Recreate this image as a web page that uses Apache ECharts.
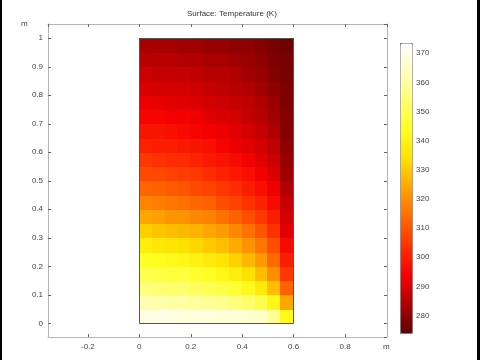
<!DOCTYPE html>
<html>
<head>
<meta charset="utf-8">
<script src="https://cdn.jsdelivr.net/npm/echarts@6/dist/echarts.min.js"></script>
<style>
html,body{margin:0;padding:0;background:#fff;}
#c{position:absolute;left:0;top:0;width:480px;height:360px;}
.bar{position:absolute;top:0;height:360px;background:#000;}
</style>
</head>
<body>
<div id="c"></div>
<div class="bar" style="left:0;width:2px"></div>
<div class="bar" style="left:477px;width:3px"></div>
<script>
// Cell centres (m)
const xCenters = [0.025,0.075,0.125,0.175,0.225,0.275,0.325,0.375,0.425,0.475,0.525,0.575];
const yCenters = [0.025,0.075,0.125,0.175,0.225,0.275,0.325,0.375,0.425,0.475,0.525,0.575,0.625,0.675,0.725,0.775,0.825,0.875,0.925,0.975];
// Temperature (K), one row per y centre (bottom -> top), one value per x centre (left -> right)
const tempRows = [
 [369,369,369,368,368,368,367,367,366,364,358,342],
 [362,361,360,360,359,358,357,355,353,349,341,324],
 [355,354,353,353,351,350,348,346,342,337,328,312],
 [349,348,347,347,345,344,341,338,334,328,320,305],
 [344,343,342,341,339,337,335,331,327,322,314,300],
 [338,336,335,334,332,330,328,325,321,316,309,296],
 [331,329,328,327,326,324,322,319,315,310,304,291],
 [324,323,321,321,319,318,315,312,309,305,300,289],
 [318,317,316,315,313,312,309,307,304,301,296,287],
 [313,312,311,310,308,307,305,303,300,297,293,284],
 [308,308,307,306,305,303,301,299,297,294,290,282],
 [305,304,303,303,301,299,298,296,294,291,288,281],
 [301,300,300,299,298,297,295,293,291,289,286,280],
 [298,298,297,296,295,294,293,291,289,287,284,279],
 [295,295,294,294,293,291,290,289,287,285,282,279],
 [293,292,291,291,290,289,288,287,286,284,281,278],
 [290,289,289,289,288,287,286,285,284,282,280,278],
 [288,287,287,287,286,285,285,284,282,281,279,277],
 [285,285,285,284,284,283,283,282,281,280,278,277],
 [283,283,283,282,282,281,281,280,280,279,277,276]
];
const tempMin = 274.0, tempMax = 373.5;
const titleText = 'Surface: Temperature (K)';
const unitText = 'm';

const dx = xCenters[1] - xCenters[0];
const dy = yCenters[1] - yCenters[0];
const cells = [];
tempRows.forEach((row, j) => row.forEach((t, i) => cells.push([xCenters[i], yCenters[j], t])));
const domain = [[xCenters[0]-dx/2, yCenters[0]-dy/2, xCenters[xCenters.length-1]+dx/2, yCenters[yCenters.length-1]+dy/2]];

const FONT = 'Liberation Sans';
const lab = {fontFamily: FONT, fontSize: 8, color: '#444'};
const frameLine = {show: true, onZero: false, lineStyle: {color: '#b4b4b4', width: 1}};
const tick = {show: true, inside: true, length: 3, lineStyle: {color: '#666'}};

const chart = echarts.init(document.getElementById('c'), null, {renderer: 'canvas'});
chart.setOption({
  animation: false,
  backgroundColor: '#fff',
  title: {text: titleText, left: 187, top: 10, padding: 0,
          textStyle: {fontFamily: FONT, fontSize: 8, fontWeight: 'normal', color: '#333'}},
  grid: [
    {left: 48, top: 24, width: 339, height: 313, containLabel: false},
    {left: 400, top: 43, width: 12, height: 290, containLabel: false}
  ],
  xAxis: [
    {gridIndex: 0, type: 'value', min: -0.355, max: 0.963, splitNumber: 6, minInterval: 0.2, maxInterval: 0.2,
     axisLine: frameLine, axisTick: tick, splitLine: {show: false},
     axisLabel: Object.assign({margin: 6, showMinLabel: false, showMaxLabel: false}, lab)},
    {gridIndex: 0, type: 'value', position: 'top', min: -0.355, max: 0.963, splitNumber: 6, minInterval: 0.2, maxInterval: 0.2,
     axisLine: frameLine, axisTick: tick, splitLine: {show: false}, axisLabel: {show: false}},
    {gridIndex: 1, type: 'value', show: false, min: 0, max: 1}
  ],
  yAxis: [
    {gridIndex: 0, type: 'value', min: -0.048, max: 1.05, splitNumber: 11, minInterval: 0.1, maxInterval: 0.1,
     axisLine: frameLine, axisTick: tick, splitLine: {show: false},
     axisLabel: Object.assign({margin: 5, showMinLabel: false, showMaxLabel: false}, lab)},
    {gridIndex: 0, type: 'value', position: 'right', min: -0.048, max: 1.05, splitNumber: 11, minInterval: 0.1, maxInterval: 0.1,
     axisLine: frameLine, axisTick: tick, splitLine: {show: false}, axisLabel: {show: false}},
    {gridIndex: 1, type: 'value', position: 'right', min: tempMin, max: tempMax, splitNumber: 10, minInterval: 10, maxInterval: 10,
     axisLine: {show: false}, axisTick: {show: false}, splitLine: {show: false},
     axisLabel: Object.assign({margin: 4, showMinLabel: false, showMaxLabel: false}, lab)},
    {gridIndex: 1, type: 'value', position: 'left', min: tempMin, max: tempMax, splitNumber: 10, minInterval: 10, maxInterval: 10,
     axisLine: {show: false}, splitLine: {show: false}, axisLabel: {show: false},
     axisTick: {show: true, inside: true, length: 2, lineStyle: {color: '#333'}}}
  ],
  visualMap: {
    type: 'continuous', min: tempMin, max: tempMax, dimension: 2, seriesIndex: 0,
    left: 400, top: 43, itemWidth: 12, itemHeight: 290, padding: 0,
    calculable: false, hoverLink: false, text: null, showLabel: false,
    borderColor: '#888', borderWidth: 1,
    inRange: {color: ['#5e0000','#b00000','#f50000','#ff3000','#ff6a00','#ffa400','#ffe000','#ffff20','#ffff70','#ffffc0','#ffffff']}
  },
  graphic: [
    {type: 'text', left: 21, top: 20, style: {text: unitText, font: '8px "Liberation Sans"', fill: '#444'}},
    {type: 'text', left: 383, top: 343, style: {text: unitText, font: '8px "Liberation Sans"', fill: '#444'}}
  ],
  series: [
    {
      type: 'custom', xAxisIndex: 0, yAxisIndex: 0, data: cells, silent: true,
      renderItem: function (params, api) {
        const x = api.value(0), y = api.value(1);
        const p0 = api.coord([x - dx/2, y + dy/2]);
        const p1 = api.coord([x + dx/2, y - dy/2]);
        const x0 = Math.floor(p0[0]), y0 = Math.floor(p0[1]);
        const x1 = Math.ceil(p1[0]), y1 = Math.ceil(p1[1]);
        return {type: 'rect', shape: {x: x0, y: y0, width: x1 - x0, height: y1 - y0},
                style: {fill: api.visual('color')}};
      }
    },
    {
      type: 'custom', xAxisIndex: 0, yAxisIndex: 0, data: domain, silent: true, z: 5,
      renderItem: function (params, api) {
        const p0 = api.coord([api.value(0), api.value(3)]);
        const p1 = api.coord([api.value(2), api.value(1)]);
        return {type: 'rect', shape: {x: Math.round(p0[0]) + 0.5, y: Math.round(p0[1]) + 0.5,
                width: Math.round(p1[0] - p0[0]), height: Math.round(p1[1] - p0[1])},
                style: {fill: null, stroke: '#555', lineWidth: 1}};
      }
    }
  ]
});
</script>
</body>
</html>
